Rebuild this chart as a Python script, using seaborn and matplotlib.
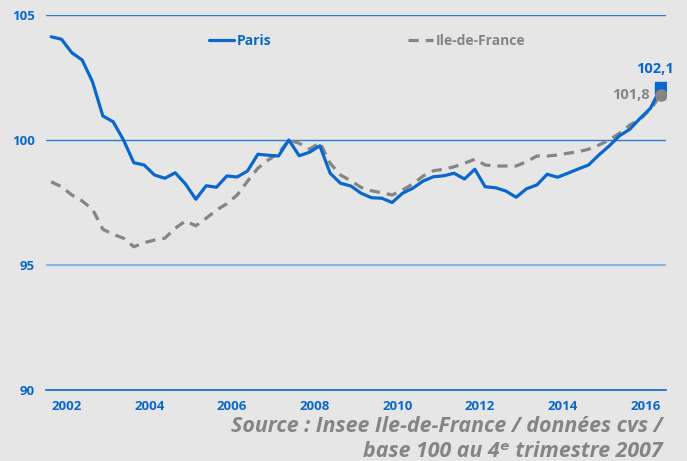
import matplotlib
matplotlib.use("Agg")
import matplotlib.pyplot as plt
from matplotlib.lines import Line2D
import numpy as np
import pandas as pd
import seaborn as sns

# données (indice base 100 au 4e trimestre 2007)
years = list(range(2002, 2017))
quarters = [f"{y}T{q}" for y in years for q in range(1, 5)]

paris = [104.13, 104.03, 103.49, 103.20, 102.33, 100.96, 100.73, 100.00,
         99.09, 99.00, 98.60, 98.47, 98.69, 98.24, 97.63, 98.17,
         98.11, 98.56, 98.52, 98.76, 99.43, 99.39, 99.36, 100.00,
         99.37, 99.51, 99.77, 98.67, 98.27, 98.16, 97.87, 97.69,
         97.67, 97.50, 97.87, 98.07, 98.36, 98.53, 98.57, 98.67,
         98.44, 98.83, 98.13, 98.09, 97.96, 97.71, 98.05, 98.20,
         98.63, 98.51, 98.67, 98.84, 99.00, 99.40, 99.76, 100.17,
         100.43, 100.87, 101.27, 102.10]

idf = [98.33, 98.13, 97.80, 97.56, 97.23, 96.43, 96.23, 96.07,
       95.73, 95.89, 96.00, 96.07, 96.47, 96.76, 96.57, 96.87,
       97.20, 97.45, 97.80, 98.35, 98.87, 99.20, 99.47, 100.00,
       99.87, 99.63, 99.90, 99.07, 98.60, 98.37, 98.10, 97.97,
       97.89, 97.80, 98.00, 98.24, 98.56, 98.77, 98.83, 98.93,
       99.07, 99.23, 99.00, 98.96, 98.96, 98.96, 99.13, 99.36,
       99.36, 99.40, 99.47, 99.53, 99.63, 99.80, 100.00, 100.27,
       100.60, 100.83, 101.23, 101.80]

yticks = [90, 95, 100, 105]

BLUE = "#0A68CC"
GREY = "#858585"
BG = "#E6E6E6"

sns.set_theme(style="white")
plt.rcParams["font.family"] = ["Open Sans", "DejaVu Sans"]

df = pd.DataFrame({"pos": np.arange(len(quarters)), "Paris": paris, "Ile-de-France": idf})

fig = plt.figure(figsize=(6.87, 4.61), dpi=100, facecolor=BG)
ax = fig.add_axes([46 / 687, 1 - 390 / 461, 620 / 687, 375 / 461], facecolor=BG)

sns.lineplot(data=df, x="pos", y="Paris", ax=ax, color=BLUE, linewidth=2.3, zorder=4)
sns.lineplot(data=df, x="pos", y="Ile-de-France", ax=ax, color=GREY, linewidth=2.3,
             zorder=3, dashes=False, linestyle=(0, (3.2, 2.2)))

# marqueurs de fin
ax.plot(df["pos"].iloc[-1], paris[-1], marker="s", ms=8, color=BLUE, zorder=5)
ax.plot(df["pos"].iloc[-1], idf[-1], marker="o", ms=8, color=GREY, zorder=6)
ax.annotate(f"{paris[-1]:.1f}".replace(".", ","), (df["pos"].iloc[-1], paris[-1]),
            xytext=(-4, 8), textcoords="offset points", ha="center", va="bottom",
            color=BLUE, fontsize=10.5, fontweight="bold")
ax.annotate(f"{idf[-1]:.1f}".replace(".", ","), (df["pos"].iloc[-1], idf[-1]),
            xytext=(-8, 0), textcoords="offset points", ha="right", va="center",
            color=GREY, fontsize=10.5, fontweight="bold")

ax.set_xlim(-0.5, len(quarters) - 0.5)
ax.set_ylim(90, 105)
ax.set_yticks(yticks)
ax.set_yticklabels([str(v) for v in yticks], color=BLUE, fontweight="bold", fontsize=9.5)
ax.set_xticks([i * 4 + 1.5 for i in range(len(years))])
ax.set_xticklabels([str(y) if y % 2 == 0 else "" for y in years],
                   color=BLUE, fontweight="bold", fontsize=9.5)
ax.set_xticks([i * 4 - 0.5 for i in range(len(years) + 1)], minor=True)
ax.tick_params(axis="x", which="major", length=0, pad=7)
ax.tick_params(axis="x", which="minor", length=4, width=1, color=BLUE, direction="out")
ax.tick_params(axis="y", length=0, pad=8)
ax.set_xlabel("")
ax.set_ylabel("")

for side in ["top", "right", "left"]:
    ax.spines[side].set_visible(False)
ax.spines["bottom"].set_color(BLUE)
ax.spines["bottom"].set_linewidth(1.2)

# lignes horizontales
for v, c, lw in [(105, "#2B7BD3", 1.0), (100, "#2B7BD3", 1.0), (95, "#86B5E8", 1.5)]:
    ax.axhline(v, color=c, linewidth=lw, zorder=1)

handles = [Line2D([], [], color=BLUE, linewidth=2.3),
           Line2D([], [], color=GREY, linewidth=2.3, linestyle=(0, (3.2, 2.2)))]
leg = ax.legend(handles, ["Paris", "Ile-de-France"], loc="center", bbox_to_anchor=(0.518, 0.93),
                ncol=2, frameon=False, handlelength=1.8, handletextpad=0.15, columnspacing=9.9,
                prop={"weight": "bold", "size": 10})
for t, c in zip(leg.get_texts(), [BLUE, GREY]):
    t.set_color(c)

src_font = dict(ha="right", va="center", color=GREY, fontsize=15.4, fontstyle="italic",
                fontweight="bold", family=["Open Sans", "DejaVu Sans"])
fig.text(663 / 687, 1 - 426 / 461, "Source : Insee Ile-de-France / données cvs /", **src_font)
fig.text(663 / 687, 1 - 451 / 461, "base 100 au 4ᵉ trimestre 2007", **src_font)

fig.savefig("out.png", dpi=100, facecolor=BG)
